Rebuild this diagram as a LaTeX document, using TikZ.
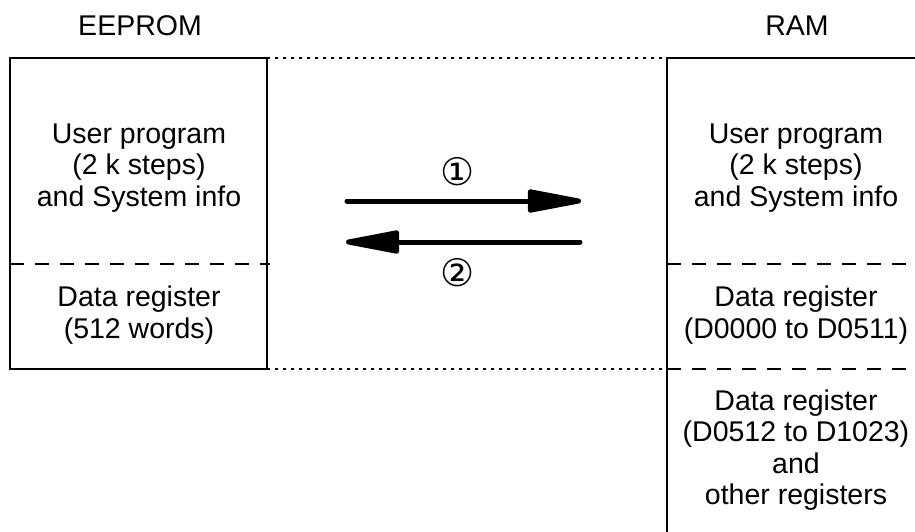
\documentclass[tikz,border=0pt]{standalone}
\usepackage{fontspec}
\setmainfont{Liberation Sans}
\newfontfamily\symfont{DejaVu Sans}
\usetikzlibrary{arrows.meta}
\tikzset{
  boxline/.style={line width=2pt, line cap=rect},
  sepline/.style={line width=1.8pt, dash pattern=on 14pt off 11pt},
  dotline/.style={line width=2.2pt, dash pattern=on 3pt off 5pt},
  txt/.style={align=center, inner sep=0pt, font=\fontsize{28.5}{31.5}\selectfont},
  num/.style={inner sep=0pt, font=\symfont\fontsize{38}{40}\selectfont},
  bigarrow/.style={line width=5pt, line cap=round, -{Triangle[length=65pt,width=23pt,round=false]}}
}
\begin{document}
\begin{tikzpicture}[x=1pt,y=-1pt]
\useasboundingbox (0,0) rectangle (915,531);
% corners
\coordinate (eTL) at (10,58);
\coordinate (eTR) at (267,58);
\coordinate (eBL) at (10,369);
\coordinate (eBR) at (267,369);
\coordinate (eML) at (10,264);
\coordinate (eMR) at (270,264);
\coordinate (rTL) at (667,58);
\coordinate (rTR) at (930,58);
\coordinate (rBL) at (667,540);
\coordinate (rM1L) at (667,264);
\coordinate (rM1R) at (930,264);
\coordinate (rM2L) at (667,369);
\coordinate (rM2R) at (930,369);
% EEPROM box
\draw[boxline] (eTL) rectangle (eBR);
\draw[sepline] (eML) -- (eMR);
% RAM box
\draw[boxline] (rTR) -- (rTL) -- (rBL);
\draw[sepline] (rM1L) -- (rM1R);
\draw[sepline] (rM2L) -- (rM2R);
% dotted links
\draw[dotline] (eTR) -- (rTL);
\draw[dotline] (eBR) -- (rM2L);
% titles
\node[txt] (eeprom) at (140,26) {EEPROM};
\node[txt] (ram) at (797,26) {RAM};
% EEPROM texts
\node[txt] (eup) at (139,168) {User program\\(2 k steps)\\and System info};
\node[txt] (edr) at (139,315) {Data register\\(512 words)};
% RAM texts
\node[txt] (rup) at (796,168) {User program\\(2 k steps)\\and System info};
\node[txt] (rdr) at (796,315) {Data register\\(D0000 to D0511)};
\node[txt] (rdr2) at (796,450) {Data register\\(D0512 to D1023)\\and\\other registers};
% arrows
\coordinate (a1s) at (347,201);
\coordinate (a1e) at (581,201);
\coordinate (a2s) at (580,242);
\coordinate (a2e) at (346,242);
\draw[bigarrow] (a1s) -- (a1e);
\draw[bigarrow] (a2s) -- (a2e);
\node[num] (n1) at (458,172) {①};
\node[num] (n2) at (458,273) {②};
\end{tikzpicture}
\end{document}
